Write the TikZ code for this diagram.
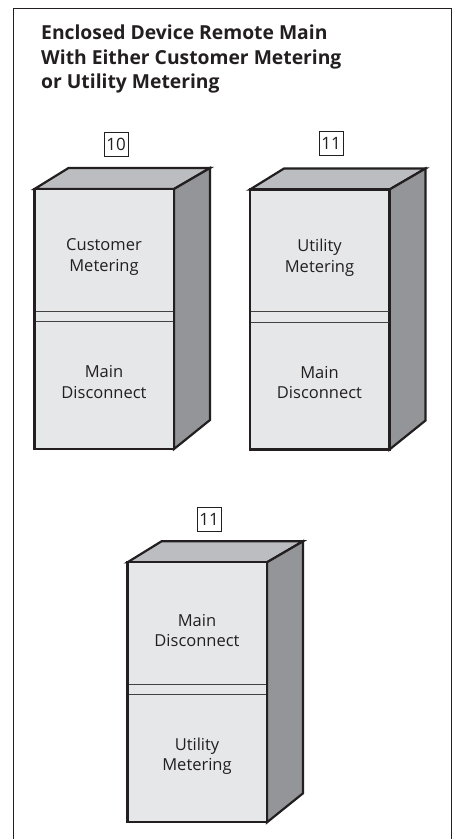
\documentclass[tikz,border=0pt]{standalone}
\usepackage{fontspec}
\setmainfont{Open Sans}
\definecolor{ink}{HTML}{231F20}
\definecolor{frontc}{HTML}{E6E7E8}
\definecolor{topc}{HTML}{BCBDC0}
\definecolor{sidec}{HTML}{939598}
\tikzset{
  px/.style={x=1pt,y=-1pt},
  faceline/.style={draw=ink,line width=2.2pt,line join=miter},
  divline/.style={draw=ink!85,line width=0.9pt},
  framel/.style={draw=ink,line width=0.9pt},
  tag/.style={draw=ink,line width=0.6pt,fill=white,minimum width=24pt,minimum height=24pt,inner sep=0pt,font=\fontsize{17}{18}\selectfont,text=ink},
  lbl/.style={align=center,inner sep=0pt,text=ink,font=\fontsize{16.5}{20.5}\selectfont},
  ttl/.style={align=left,inner sep=0pt,anchor=north west,text=ink,font=\fontsize{19.3}{24.5}\selectfont\bfseries}
}
\newcommand{\cabinet}[9]{% x, ytop, tagx, tagy, upper, lower, name, dy, tag
  \begin{scope}[shift={(#1,#2)}]
    \draw[faceline,fill=topc] (0,0) -- (34,-21) -- (175.5,-21) -- (139.5,0) -- cycle;
    \draw[faceline,fill=sidec] (139.5,0) -- (175.5,-21) -- (175.5,231) -- (139.5,260) -- cycle;
    \draw[faceline,fill=frontc] (0,0) rectangle (139.5,260);
    \coordinate (#7dl1) at (1,122);
    \coordinate (#7dr1) at (138.5,122);
    \coordinate (#7dl2) at (1,132.5);
    \coordinate (#7dr2) at (138.5,132.5);
    \draw[divline] (#7dl1) -- (#7dr1);
    \draw[divline] (#7dl2) -- (#7dr2);
    \node[lbl] (#7up) at (69.5,68) {#5};
    \node[lbl] (#7lo) at (69.5,#8) {#6};
  \end{scope}
  \node[tag] (#7tag) at (#3,#4) {#9};
}
\begin{document}
\begin{tikzpicture}[px]
\useasboundingbox (0,0) rectangle (456,839);
\fill[white] (0,0) rectangle (456,839);
\coordinate (fbl) at (13,839);
\coordinate (ftl) at (13,8);
\coordinate (ftr) at (451,8);
\coordinate (fbr) at (451,839);
\draw[framel] (fbl) -- (ftl) -- (ftr) -- (fbr);
\node[ttl] (title) at (41,25) {Enclosed Device Remote Main\\With Either Customer Metering\\or Utility Metering};
\cabinet{34.5}{189}{116}{144}{Customer\\Metering}{Main\\Disconnect}{a}{193}{10}
\cabinet{250}{189.5}{331}{143}{Utility\\Metering}{Main\\Disconnect}{b}{193}{11}
\cabinet{127.5}{562.3}{209}{519}{Main\\Disconnect}{Utility\\Metering}{c}{194}{11}
\end{tikzpicture}
\end{document}
